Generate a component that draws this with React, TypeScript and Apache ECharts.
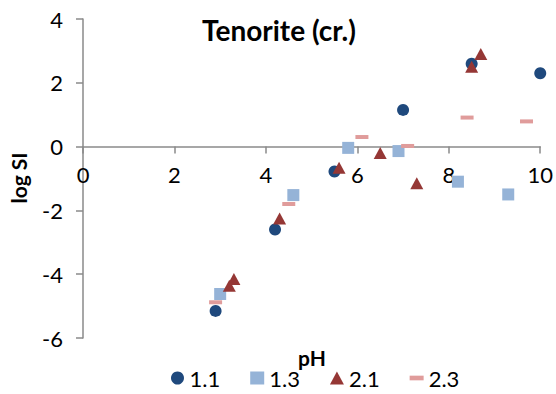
import React, { useEffect, useRef } from "react";
import * as echarts from "echarts";

// pH vs log saturation index for tenorite, four sampling sets
const set11: [number, number][] = [
  [2.9, -5.15], [4.2, -2.6], [5.5, -0.78], [7.0, 1.15], [8.5, 2.6], [10.0, 2.3],
];
const set13: [number, number][] = [
  [3.0, -4.62], [4.6, -1.52], [5.8, -0.04], [6.9, -0.14], [8.2, -1.1], [9.3, -1.5],
];
const set21: [number, number][] = [
  [3.2, -4.36], [3.3, -4.15], [4.3, -2.25], [5.6, -0.66], [6.5, -0.2], [7.3, -1.15], [8.5, 2.5], [8.7, 2.9],
];
const set23: [number, number][] = [
  [2.9, -4.88], [4.5, -1.8], [6.1, 0.3], [7.1, 0.02], [8.4, 0.91], [9.7, 0.79],
];

const seriesNames = ["1.1", "1.3", "2.1", "2.3"];
const xTicks = { min: 0, max: 10, interval: 2 };
const yTicks = { min: -6, max: 4, interval: 2 };

const FONT = "Lato, 'Noto Sans', sans-serif";
const DASH = "path://M0,0 H12 V4 H0 Z";

const GRID_TOP = 19;
const GRID_BOTTOM = 56;
const HEIGHT = 394;

export default function App() {
  const ref = useRef<HTMLDivElement>(null);

  useEffect(() => {
    if (!ref.current) return;
    const chart = echarts.init(ref.current, undefined, { renderer: "svg" });
    const axisStyle = { color: "#8a8a8a", width: 1.5 };
    // the x axis sits on y = 0, so shift it up from the grid's bottom edge
    const plotH = HEIGHT - GRID_TOP - GRID_BOTTOM;
    const zeroOffset = -plotH * (0 - yTicks.min) / (yTicks.max - yTicks.min);
    chart.setOption({
      animation: false,
      backgroundColor: "#ffffff",
      textStyle: { fontFamily: FONT },
      title: {
        text: "Tenorite (cr.)",
        left: 274,
        top: 11,
        textAlign: "center",
        textStyle: { fontFamily: FONT, fontSize: 28, fontWeight: "bold", color: "#000" },
      },
      grid: { left: 83, right: 15, top: GRID_TOP, bottom: GRID_BOTTOM, containLabel: false },
      xAxis: {
        type: "value",
        min: xTicks.min,
        max: xTicks.max,
        interval: xTicks.interval,
        position: "bottom",
        offset: zeroOffset,
        axisLine: { onZero: false, lineStyle: axisStyle },
        axisTick: { show: true, inside: false, length: 7, lineStyle: axisStyle },
        axisLabel: { fontSize: 22, color: "#000", margin: 17, fontFamily: FONT },
        splitLine: { show: false },
      },
      yAxis: {
        type: "value",
        min: yTicks.min,
        max: yTicks.max,
        interval: yTicks.interval,
        axisLine: { show: true, onZero: false, lineStyle: axisStyle },
        axisTick: { show: true, length: 7, lineStyle: axisStyle },
        axisLabel: { fontSize: 22, color: "#000", margin: 20, fontFamily: FONT },
        splitLine: { show: false },
      },
      legend: {
        top: 366,
        left: 171,
        itemGap: 30,
        itemWidth: 14,
        itemHeight: 13,
        padding: 0,
        textStyle: { fontSize: 22, lineHeight: 24, color: "#000", fontFamily: FONT },
        data: [
          { name: seriesNames[0], icon: "circle" },
          { name: seriesNames[1], icon: "rect" },
          { name: seriesNames[2], icon: "triangle" },
          { name: seriesNames[3], icon: DASH },
        ],
      },
      graphic: [
        {
          type: "text",
          x: 312,
          y: 357,
          style: {
            text: "pH",
            font: `bold 21px ${FONT}`,
            fill: "#000",
            align: "center",
            verticalAlign: "middle",
          },
        },
        {
          type: "text",
          x: 18,
          y: 178,
          rotation: Math.PI / 2,
          style: {
            text: "log SI",
            font: `bold 21px ${FONT}`,
            fill: "#000",
            align: "center",
            verticalAlign: "middle",
          },
        },
      ],
      series: [
        {
          name: seriesNames[0],
          type: "scatter",
          data: set11,
          symbol: "circle",
          symbolSize: 12,
          itemStyle: { color: "#1F497D", opacity: 1 },
        },
        {
          name: seriesNames[1],
          type: "scatter",
          data: set13,
          symbol: "rect",
          symbolSize: 12,
          itemStyle: { color: "#95B3D7", opacity: 1 },
        },
        {
          name: seriesNames[2],
          type: "scatter",
          data: set21,
          symbol: "triangle",
          symbolSize: [13, 12],
          itemStyle: { color: "#953735", opacity: 1 },
        },
        {
          name: seriesNames[3],
          type: "scatter",
          data: set23,
          symbol: DASH,
          symbolSize: [13, 4],
          itemStyle: { color: "#E09C9B", opacity: 1 },
        },
      ],
    });
    return () => chart.dispose();
  }, []);

  return <div ref={ref} style={{ width: 556, height: 394, position: "absolute", left: 0, top: 0 }} />;
}
